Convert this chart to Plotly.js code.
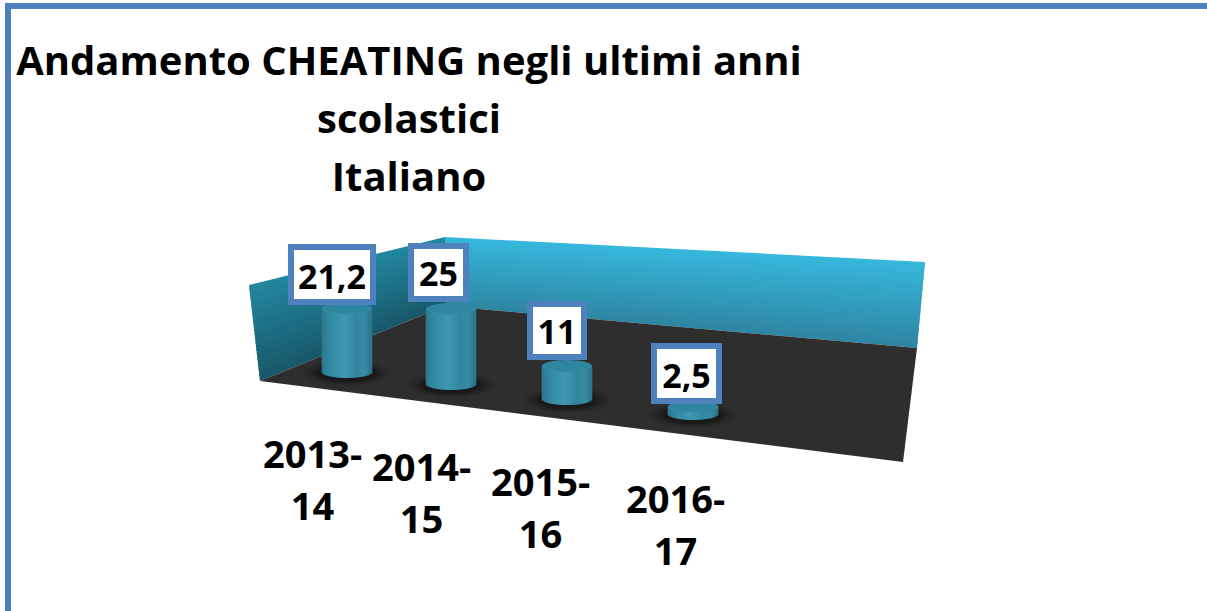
<!DOCTYPE html>
<html>
<head>
<meta charset="utf-8">
<script src="https://cdn.plot.ly/plotly-3.0.1.min.js"></script>
<style>html,body{margin:0;padding:0;background:#fff;overflow:hidden}#chart{width:1207px;height:611px}</style>
</head>
<body>
<div id="chart"></div>
<script>
// Data
var categories = ['2013-', '14', '2014-', '15', '2015-', '16', '2016-', '17'];
var values = [21.2, 25, 11, 2.5];
var valueLabels = ['21,2', '25', '11', '2,5'];
var titleLines = ['Andamento CHEATING negli ultimi anni', 'scolastici', 'Italiano'];

// Layout of the picture (pixels in the page)
var W = 1207, H = 611, PX_PER_UNIT = 3;
var FONT = 'Open Sans, Noto Sans, sans-serif';
var barCenters = [347, 451, 567, 693];
var barBasePx = [372, 384, 399, 414];
var barWidthPx = 50, ellipseRy = 6;
var labelCenters = [[332, 274.5], [438, 272], [556.5, 330], [686, 373]];
var labelSizes = [[76, 49], [49, 47], [48, 47], [59, 49]];
var catCenters = [[312, 479], [421, 492], [540, 507], [675, 524]];

var wallLeft = [[249, 285], [445, 237], [445, 306], [260, 381]];
var wallBack = [[445, 237], [925, 262], [917, 348], [445, 306]];
var floorPoly = [[260, 381], [445, 306], [917, 348], [903, 462]];

function v(py) { return (H - py) / PX_PER_UNIT; }
function lerp(a, b, t) { return a + (b - a) * t; }
function mix(c1, c2, t) {
  return 'rgb(' + c1.map(function (c, i) { return Math.round(lerp(c, c2[i], t)); }).join(',') + ')';
}
function polyPath(pts) {
  return 'M' + pts.map(function (p) { return p[0] + ',' + v(p[1]); }).join('L') + 'Z';
}
function polyShape(pts, color) {
  return { type: 'path', path: polyPath(pts), fillcolor: color, line: { width: 0 }, layer: 'below', xref: 'x', yref: 'y' };
}
function ellipse(cx, cy, rx, ry, color, opacity, layer) {
  return { type: 'circle', xref: 'x', yref: 'y', x0: cx - rx, x1: cx + rx, y0: v(cy + ry), y1: v(cy - ry),
    fillcolor: color, opacity: opacity, line: { width: 0 }, layer: layer };
}
// vertical gradient on a quad [topA, topB, botB, botA]
function gradientQuad(q, cTop, cBot, n) {
  var out = [];
  for (var i = 0; i < n; i++) {
    var t0 = i / n, t1 = (i + 1.6) / n; if (t1 > 1) t1 = 1;
    out.push(polyShape([
      [lerp(q[0][0], q[3][0], t0), lerp(q[0][1], q[3][1], t0)],
      [lerp(q[1][0], q[2][0], t0), lerp(q[1][1], q[2][1], t0)],
      [lerp(q[1][0], q[2][0], t1), lerp(q[1][1], q[2][1], t1)],
      [lerp(q[0][0], q[3][0], t1), lerp(q[0][1], q[3][1], t1)]
    ], mix(cTop, cBot, i / (n - 1))));
  }
  return out;
}

var shapes = [];
shapes = shapes.concat(gradientQuad(wallLeft, [33, 135, 158], [24, 88, 106], 30));
shapes = shapes.concat(gradientQuad(wallBack, [54, 183, 220], [46, 134, 163], 30));
shapes.push(polyShape(floorPoly, '#2e2e2e'));
// frame
shapes.push({ type: 'rect', xref: 'x', yref: 'y', x0: 5, x1: W + 5, y0: v(3), y1: v(9), fillcolor: '#4f81bd', line: { width: 0 }, layer: 'below' });
shapes.push({ type: 'rect', xref: 'x', yref: 'y', x0: 5, x1: 11, y0: v(3), y1: v(H + 5), fillcolor: '#4f81bd', line: { width: 0 }, layer: 'below' });

// shadows
barCenters.forEach(function (cx, i) {
  var cy = barBasePx[i] + 1;
  shapes.push(ellipse(cx, cy, 44, 13, '#000', 0.05, 'below'));
  shapes.push(ellipse(cx, cy, 39, 11.5, '#000', 0.10, 'below'));
  shapes.push(ellipse(cx, cy, 34, 10, '#000', 0.15, 'below'));
  shapes.push(ellipse(cx, cy, 30, 9, '#000', 0.20, 'below'));
});

var baseV = barBasePx.map(v);
var traces = [{
  type: 'bar', name: 'Italiano', x: barCenters, y: values, base: baseV, width: barWidthPx,
  marker: { color: '#3a93ad', line: { width: 0 } }, hoverinfo: 'skip', showlegend: false
}];

// cylinder shading
var N = 25;
var shadeStops = [[0, [43, 120, 143]], [0.2, [52, 140, 165]], [0.45, [62, 152, 177]], [0.7, [50, 134, 158]], [0.85, [58, 140, 165]], [1, [40, 115, 137]]];
function shade(t) {
  for (var k = 1; k < shadeStops.length; k++) {
    if (t <= shadeStops[k][0]) {
      var a = shadeStops[k - 1], b = shadeStops[k];
      return mix(a[1], b[1], (t - a[0]) / (b[0] - a[0]));
    }
  }
  return mix(shadeStops[5][1], shadeStops[5][1], 0);
}
for (var s = 0; s < N; s++) {
  var t = (s + 0.5) / N, u = 2 * t - 1;
  var drop = ellipseRy * Math.sqrt(1 - u * u) / PX_PER_UNIT;
  traces.push({
    type: 'bar', showlegend: false, hoverinfo: 'skip',
    x: barCenters.map(function (c) { return c + u * barWidthPx / 2; }),
    y: values.map(function (val) { return val + drop; }),
    base: baseV.map(function (b) { return b - drop; }),
    width: barWidthPx / N + 0.6,
    marker: { color: shade(t), line: { width: 0 } }
  });
}

// cylinder tops
barCenters.forEach(function (cx, i) {
  var topPx = barBasePx[i] - values[i] * PX_PER_UNIT;
  shapes.push(ellipse(cx, topPx, barWidthPx / 2, ellipseRy, '#338aa4', 1, 'above'));
  shapes.push(ellipse(cx, topPx - 0.5, barWidthPx / 2 - 2, ellipseRy - 1, '#2f86a0', 1, 'above'));
});

var annotations = [];
valueLabels.forEach(function (txt, i) {
  annotations.push({
    xref: 'x', yref: 'y', x: labelCenters[i][0], y: v(labelCenters[i][1]), text: '<b>' + txt + '</b>',
    showarrow: false, xanchor: 'center', yanchor: 'middle', width: labelSizes[i][0], height: labelSizes[i][1],
    valign: 'bottom', bgcolor: '#fff', bordercolor: '#4f81bd', borderwidth: 6, borderpad: 0,
    font: { family: FONT, size: 34, color: '#000' }
  });
});
var catText = [];
for (var c = 0; c < categories.length; c += 2) {
  catText.push('<span style="font-size:38px"><b>' + categories[c] + '</b></span><br><span style="font-size:38px"><b>' + categories[c + 1] + '</b></span>');
}
catText.forEach(function (txt, i) {
  annotations.push({
    xref: 'x', yref: 'y', x: catCenters[i][0], y: v(catCenters[i][1]), text: txt,
    showarrow: false, xanchor: 'center', yanchor: 'middle',
    font: { family: FONT, size: 40, color: '#000' }
  });
});

var titleText = titleLines.map(function (l) { return '<span style="font-size:40px"><b>' + l + '</b></span>'; }).join('<br>');

var layout = {
  width: W, height: H, margin: { l: 0, r: 0, t: 0, b: 0 },
  paper_bgcolor: '#fff', plot_bgcolor: 'rgba(0,0,0,0)', barmode: 'overlay', showlegend: false,
  title: { text: titleText, font: { family: FONT, size: 44.6, color: '#000' },
    x: 409 / W, xref: 'paper', xanchor: 'center', y: 1 - 75 / H, yref: 'container', yanchor: 'top', automargin: false },
  xaxis: { range: [0, W], visible: false, fixedrange: true },
  yaxis: { range: [0, H / PX_PER_UNIT], visible: false, fixedrange: true },
  shapes: shapes, annotations: annotations
};
Plotly.newPlot('chart', traces, layout, { displayModeBar: false, staticPlot: true });
</script>
</body>
</html>
